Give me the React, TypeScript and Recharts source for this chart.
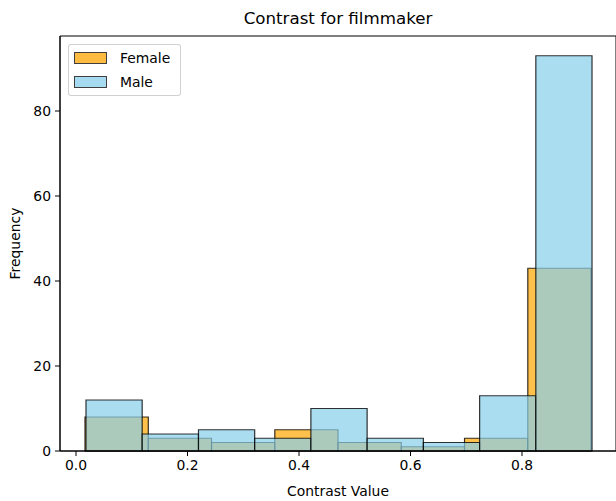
import React from 'react';
import { ComposedChart, XAxis, YAxis, ReferenceArea, Label } from 'recharts';

// Histogram bin edges (contrast value) and counts per group
const femaleBinEdges = [0.0161, 0.1297, 0.2431, 0.3566, 0.47, 0.5835, 0.6969, 0.8104, 0.9238];
const femaleCounts = [8, 3, 2, 5, 2, 1, 3, 43];

const maleBinEdges = [0.0179, 0.1187, 0.2197, 0.3205, 0.4213, 0.5222, 0.6231, 0.724, 0.8248, 0.9256];
const maleCounts = [12, 4, 5, 3, 10, 3, 2, 13, 93];

const xTicks = [0, 0.2, 0.4, 0.6, 0.8];
const yTicks = [0, 20, 40, 60, 80];

const X_DOMAIN: [number, number] = [-0.0287, 0.9686];
const Y_DOMAIN: [number, number] = [0, 97.65];

const FONT = '"DejaVu Sans", Verdana, sans-serif';

type Series = { name: string; edges: number[]; counts: number[]; color: string };

// Drawn in order: Female underneath, Male on top
const series: Series[] = [
  { name: 'Female', edges: femaleBinEdges, counts: femaleCounts, color: '#FFA500' },
  { name: 'Male', edges: maleBinEdges, counts: maleCounts, color: '#87CEEB' },
];

const chartData = maleCounts.map((c, i) => ({ x: maleBinEdges[i], count: c }));

const tickStyle = { fill: '#000', fontSize: 13.9, fontFamily: FONT };

function YLabel(props: any) {
  const vb = props.viewBox || {};
  const x = 15;
  const y = vb.y + vb.height / 2;
  return (
    <text
      x={x}
      y={y}
      transform={`rotate(-90, ${x}, ${y})`}
      textAnchor="middle"
      dominantBaseline="central"
      fontSize={13.9}
      fontFamily={FONT}
      fill="#000"
    >
      Frequency
    </text>
  );
}

export default function App() {
  return (
    <div style={{ position: 'absolute', left: 0, top: 0, width: 616, height: 501, background: '#fff' }}>
      <ComposedChart
        width={616}
        height={501}
        data={chartData}
        margin={{ top: 36, right: 0, bottom: 0, left: 0 }}
      >
        <XAxis
          dataKey="x"
          type="number"
          domain={X_DOMAIN}
          allowDataOverflow
          ticks={xTicks}
          tickFormatter={(v: number) => v.toFixed(1)}
          height={50}
          tick={tickStyle}
          tickSize={5}
          tickMargin={4}
          axisLine={{ stroke: '#000' }}
          tickLine={{ stroke: '#000' }}
        >
          <Label
            value="Contrast Value"
            position="insideBottom"
            offset={5}
            style={{ fontSize: 13.9, fontFamily: FONT, fill: '#000' }}
          />
        </XAxis>
        <YAxis
          type="number"
          domain={Y_DOMAIN}
          allowDataOverflow
          ticks={yTicks}
          width={60}
          tick={tickStyle}
          tickSize={5}
          tickMargin={4}
          axisLine={{ stroke: '#000' }}
          tickLine={{ stroke: '#000' }}
        >
          <Label content={YLabel} />
        </YAxis>
        {series.map((s) =>
          s.counts.map((c, i) => (
            <ReferenceArea
              key={`${s.name}-${i}`}
              x1={s.edges[i]}
              x2={s.edges[i + 1]}
              y1={0}
              y2={c}
              fill={s.color}
              fillOpacity={0.7}
              stroke="#000"
              strokeOpacity={0.8}
              strokeWidth={1.2}
              ifOverflow="visible"
            />
          ))
        )}
        {/* axes frame */}
        <ReferenceArea
          x1={X_DOMAIN[0]}
          x2={X_DOMAIN[1]}
          y1={Y_DOMAIN[0]}
          y2={Y_DOMAIN[1]}
          fill="none"
          fillOpacity={0}
          stroke="#000"
          strokeWidth={1}
          ifOverflow="visible"
        />
      </ComposedChart>
      <div
        style={{
          position: 'absolute',
          left: 60,
          width: 556,
          top: 9,
          textAlign: 'center',
          fontFamily: FONT,
          fontSize: 16.67,
          lineHeight: '20px',
          color: '#000',
        }}
      >
        Contrast for filmmaker
      </div>
      {/* legend */}
      <div
        style={{
          position: 'absolute',
          left: 68,
          top: 44,
          width: 111,
          height: 50,
          border: '1px solid rgba(204,204,204,0.9)',
          borderRadius: 3,
          background: 'rgba(255,255,255,0.8)',
          fontFamily: FONT,
          fontSize: 13.9,
          color: '#000',
        }}
      >
        {series.map((s, i) => (
          <div
            key={s.name}
            style={{ position: 'absolute', left: 5, top: 7 + i * 24, height: 12, display: 'flex', alignItems: 'center' }}
          >
            <div
              style={{
                width: 31,
                height: 10.5,
                background: s.color,
                opacity: 0.75,
                border: '1px solid #000',
                boxSizing: 'content-box',
              }}
            />
            <span style={{ marginLeft: 13, lineHeight: '12px', whiteSpace: 'nowrap' }}>{s.name}</span>
          </div>
        ))}
      </div>
    </div>
  );
}
